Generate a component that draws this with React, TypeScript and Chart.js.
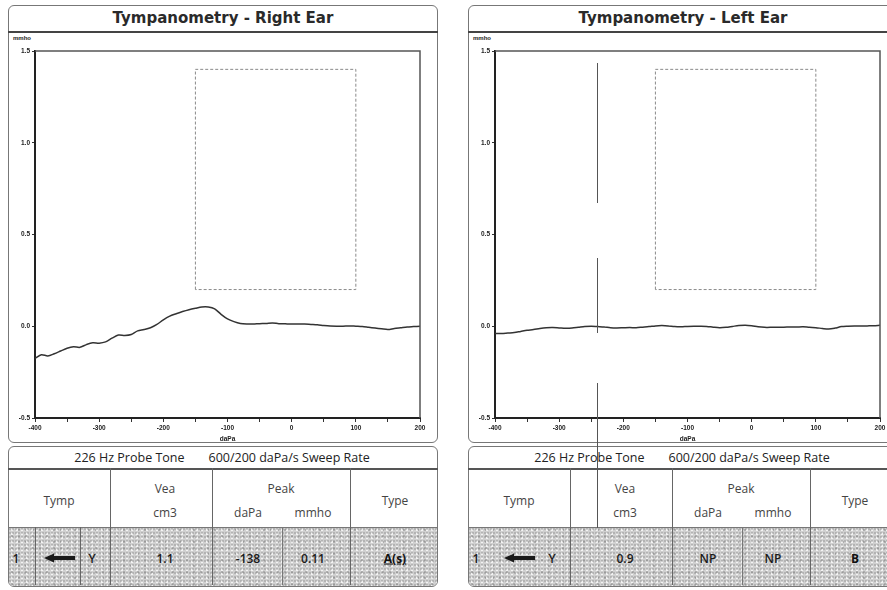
import React, { useEffect, useRef } from "react";
import { Chart, registerables } from "chart.js";

Chart.register(...registerables);
Chart.defaults.font.family = "'Liberation Sans', Arial, sans-serif";

// ---------- DATA ----------
const pressures = [
  -400, -390, -380, -370, -360, -350, -340, -330, -320, -310,
  -300, -290, -280, -270, -260, -250, -240, -230, -220, -210,
  -200, -190, -180, -170, -160, -150, -140, -130, -120, -110,
  -100, -90, -80, -70, -60, -50, -40, -30, -20, -10,
  0, 10, 20, 30, 40, 50, 60, 70, 80, 90,
  100, 110, 120, 130, 140, 150, 160, 170, 180, 190, 200,
];

const rightAdmittance = [
  -0.175, -0.155, -0.162, -0.15, -0.135, -0.12, -0.112, -0.115, -0.1, -0.09,
  -0.092, -0.085, -0.065, -0.048, -0.05, -0.045, -0.025, -0.018, -0.008, 0.01,
  0.035, 0.055, 0.068, 0.08, 0.09, 0.098, 0.105, 0.105, 0.095, 0.065,
  0.04, 0.025, 0.015, 0.012, 0.012, 0.014, 0.015, 0.018, 0.014, 0.013,
  0.012, 0.012, 0.012, 0.01, 0.008, 0.004, 0.001, 0.0, 0.0, 0.002,
  0.0, -0.002, -0.006, -0.01, -0.014, -0.018, -0.012, -0.008, -0.004, -0.002, 0.0,
];

const leftAdmittance = [
  -0.04, -0.04, -0.037, -0.034, -0.028, -0.022, -0.018, -0.012, -0.008, -0.007,
  -0.009, -0.011, -0.01, -0.006, -0.002, 0.0, -0.002, -0.004, -0.008, -0.009,
  -0.008, -0.007, -0.008, -0.005, -0.002, 0.002, 0.004, 0.002, -0.002, -0.003,
  -0.001, 0.0, 0.0, -0.001, -0.005, -0.008, -0.006, -0.001, 0.004, 0.006,
  0.003, -0.003, -0.006, -0.006, -0.005, -0.005, -0.004, -0.004, -0.003, -0.006,
  -0.008, -0.012, -0.015, -0.01, -0.002, 0.0, 0.001, 0.001, 0.002, 0.003, 0.005,
];

// normal-range box
const boxPressure = [-150, -150, 100, 100, -150];
const boxAdmittance = [0.2, 1.4, 1.4, 0.2, 0.2];

const xTickLabels = [-400, -300, -200, -100, 0, 100, 200];

const rightRow = { vea: "1.1", peakDaPa: "-138", peakMmho: "0.11", type: "A(s)" };
const leftRow = { vea: "0.9", peakDaPa: "NP", peakMmho: "NP", type: "B" };

// ---------- CHART ----------
const framePlugin = {
  id: "frame",
  afterDraw(chart: any) {
    const { ctx, chartArea } = chart;
    ctx.save();
    ctx.strokeStyle = "#555";
    ctx.lineWidth = 1.5;
    ctx.beginPath();
    ctx.moveTo(chartArea.left, chartArea.top);
    ctx.lineTo(chartArea.right, chartArea.top);
    ctx.lineTo(chartArea.right, chartArea.bottom);
    ctx.stroke();
    ctx.restore();
  },
};

function TympChart({ values }: { values: number[] }) {
  const ref = useRef<HTMLCanvasElement | null>(null);
  useEffect(() => {
    if (!ref.current) return;
    const chart = new Chart(ref.current, {
      type: "line",
      data: {
        datasets: [
          {
            data: pressures.map((p, i) => ({ x: p, y: values[i] })),
            borderColor: "#333",
            borderWidth: 1.5,
            pointRadius: 0,
            tension: 0.3,
          },
          {
            data: boxPressure.map((p, i) => ({ x: p, y: boxAdmittance[i] })),
            borderColor: "#8a8a8a",
            borderWidth: 1,
            borderDash: [3, 2],
            pointRadius: 0,
            tension: 0,
          },
        ],
      },
      options: {
        animation: false,
        responsive: false,
        maintainAspectRatio: false,
        layout: { padding: { top: 18, right: 18, left: 0, bottom: 0 } },
        plugins: { legend: { display: false }, tooltip: { enabled: false } },
        scales: {
          x: {
            type: "linear",
            min: -400,
            max: 200,
            ticks: {
              stepSize: 50,
              autoSkip: false,
              maxRotation: 0,
              padding: 2,
              color: "#222",
              font: { size: 6.5, weight: "bold" },
              callback: (v: any) => (xTickLabels.includes(Number(v)) ? String(v) : ""),
            },
            grid: { drawOnChartArea: false, tickLength: 4, color: "#333" },
            border: { color: "#222", width: 2 },
            title: {
              display: true,
              text: "daPa",
              color: "#222",
              font: { size: 6.5, weight: "bold" },
              padding: 0,
            },
            afterFit: (s: any) => {
              s.height = 25;
            },
          },
          y: {
            min: -0.5,
            max: 1.5,
            ticks: {
              stepSize: 0.5,
              padding: 2,
              color: "#222",
              font: { size: 6.5, weight: "bold" },
              callback: (v: any) => Number(v).toFixed(1),
            },
            grid: { drawOnChartArea: false, tickLength: 3, color: "#333" },
            border: { color: "#222", width: 2 },
            afterFit: (s: any) => {
              s.width = 27;
            },
          },
        },
      } as any,
      plugins: [framePlugin],
    });
    return () => chart.destroy();
  }, []);
  return <canvas ref={ref} width={430} height={410} style={{ display: "block" }} />;
}

// ---------- TABLE ----------
const noise =
  "radial-gradient(circle at 1px 1px, rgba(95,95,95,0.35) 0.6px, transparent 1px) 0 0/3px 4px," +
  "radial-gradient(circle at 2px 2px, rgba(255,255,255,0.75) 1px, transparent 1.3px) 1px 0/5px 4px," +
  "radial-gradient(circle at 1px 1px, rgba(70,70,70,0.25) 0.7px, transparent 1px) 2px 1px/7px 6px," +
  "#d0d0d0";

const txt: React.CSSProperties = {
  position: "absolute",
  fontFamily: "'Open Sans', 'DejaVu Sans', sans-serif",
  fontSize: 12,
  color: "#444",
  whiteSpace: "nowrap",
  transform: "translate(-50%, -50%)",
};

const dataTxt: React.CSSProperties = { ...txt, color: "#1a1a1a", fontWeight: 600 };

function VLine({ x, y1, y2, c = "#666" }: { x: number; y1: number; y2: number; c?: string }) {
  return (
    <div style={{ position: "absolute", left: x, top: y1, width: 1, height: y2 - y1, background: c }} />
  );
}

function Arrow({ x, y }: { x: number; y: number }) {
  return (
    <svg style={{ position: "absolute", left: x, top: y - 5 }} width={32} height={10}>
      <polygon points="0,5 10,0.5 10,9.5" fill="#1a1a1a" />
      <rect x={9} y={3} width={22} height={4} fill="#1a1a1a" />
    </svg>
  );
}

function DataTable({ left, row, subDiv }: { left: number; row: any; subDiv: boolean }) {
  const T = 446;
  const R1 = 468;
  const R2 = 527;
  const B = 585;
  const w = 430;
  const c1 = left + 102;
  const c2 = left + 204;
  const c3 = left + 342;
  const cp = left + 274;
  return (
    <>
      <div
        style={{
          position: "absolute",
          left,
          top: T,
          width: w,
          height: B - T + 2,
          border: "1px solid #777",
          borderRadius: 6,
          boxSizing: "border-box",
          overflow: "hidden",
        }}
      >
        <div style={{ position: "absolute", left: 0, top: R2 - T, width: w, height: B - R2, background: noise }} />
      </div>
      <div style={{ position: "absolute", left, top: R1, width: w, height: 1.5, background: "#555" }} />
      <div style={{ position: "absolute", left, top: R2, width: w, height: 1, background: "#777" }} />
      <div style={{ ...txt, left: left + 214, top: 457, fontSize: 12.5, color: "#222" }}>
        226 Hz Probe Tone<span style={{ display: "inline-block", width: 24 }} />600/200 daPa/s Sweep Rate
      </div>
      <VLine x={c1} y1={R1} y2={B} />
      <VLine x={c2} y1={R1} y2={B} />
      <VLine x={c3} y1={R1} y2={B} />
      <VLine x={cp} y1={R2} y2={B} c="#777" />
      {subDiv && <VLine x={left + 27} y1={R2} y2={B} />}
      {subDiv && <VLine x={left + 72} y1={R2} y2={B} />}
      <div style={{ ...txt, left: left + 51, top: 500 }}>Tymp</div>
      <div style={{ ...txt, left: left + 157, top: 488 }}>Vea</div>
      <div style={{ ...txt, left: left + 157, top: 512 }}>cm3</div>
      <div style={{ ...txt, left: left + 273, top: 488 }}>Peak</div>
      <div style={{ ...txt, left: left + 240, top: 512 }}>daPa</div>
      <div style={{ ...txt, left: left + 305, top: 512 }}>mmho</div>
      <div style={{ ...txt, left: left + 387, top: 500 }}>Type</div>
      <div style={{ ...dataTxt, left: left + 8, top: 558 }}>1</div>
      <Arrow x={left + 36} y={558} />
      <div style={{ ...dataTxt, left: left + 84, top: 558 }}>Y</div>
      <div style={{ ...dataTxt, left: left + 157, top: 558 }}>{row.vea}</div>
      <div style={{ ...dataTxt, left: left + 240, top: 558 }}>{row.peakDaPa}</div>
      <div style={{ ...dataTxt, left: left + 305, top: 558 }}>{row.peakMmho}</div>
      <div
        style={{
          ...dataTxt,
          left: left + 387,
          top: 558,
          color: "#111",
          fontWeight: "bold",
          textDecoration: row.type === "A(s)" ? "underline" : "none",
        }}
      >
        {row.type}
      </div>
    </>
  );
}

function Panel({ left, title, values, row, subDiv }: any) {
  return (
    <>
      <div
        style={{
          position: "absolute",
          left,
          top: 5,
          width: 430,
          height: 438,
          border: "1px solid #777",
          borderRadius: 6,
          boxSizing: "border-box",
        }}
      />
      <div style={{ position: "absolute", left, top: 31, width: 430, height: 1.5, background: "#444" }} />
      <div
        style={{
          position: "absolute",
          left,
          top: 6,
          width: 430,
          height: 25,
          lineHeight: "25px",
          textAlign: "center",
          fontFamily: "'DejaVu Sans', sans-serif",
          fontWeight: 600,
          fontSize: 15,
          color: "#2a2a2a",
        }}
      >
        {title}
      </div>
      <div
        style={{
          position: "absolute",
          left: left + 5,
          top: 35,
          fontFamily: "'Liberation Sans', Arial, sans-serif",
          fontSize: 6,
          fontWeight: "bold",
          color: "#222",
        }}
      >
        mmho
      </div>
      <div style={{ position: "absolute", left, top: 33 }}>
        <TympChart values={values} />
      </div>
      <DataTable left={left} row={row} subDiv={subDiv} />
    </>
  );
}

export default function App() {
  return (
    <div
      style={{
        position: "fixed",
        left: 0,
        top: 0,
        width: 887,
        height: 590,
        overflow: "hidden",
        background: "#fff",
      }}
    >
      <Panel left={8} title="Tympanometry - Right Ear" values={rightAdmittance} row={rightRow} subDiv={true} />
      <Panel left={468} title="Tympanometry - Left Ear" values={leftAdmittance} row={leftRow} subDiv={false} />
      {/* scan artefact line on the left-ear sheet */}
      <VLine x={597} y1={63} y2={203} c="#555" />
      <VLine x={597} y1={258} y2={333} c="#555" />
      <VLine x={597} y1={383} y2={528} c="#555" />
    </div>
  );
}
